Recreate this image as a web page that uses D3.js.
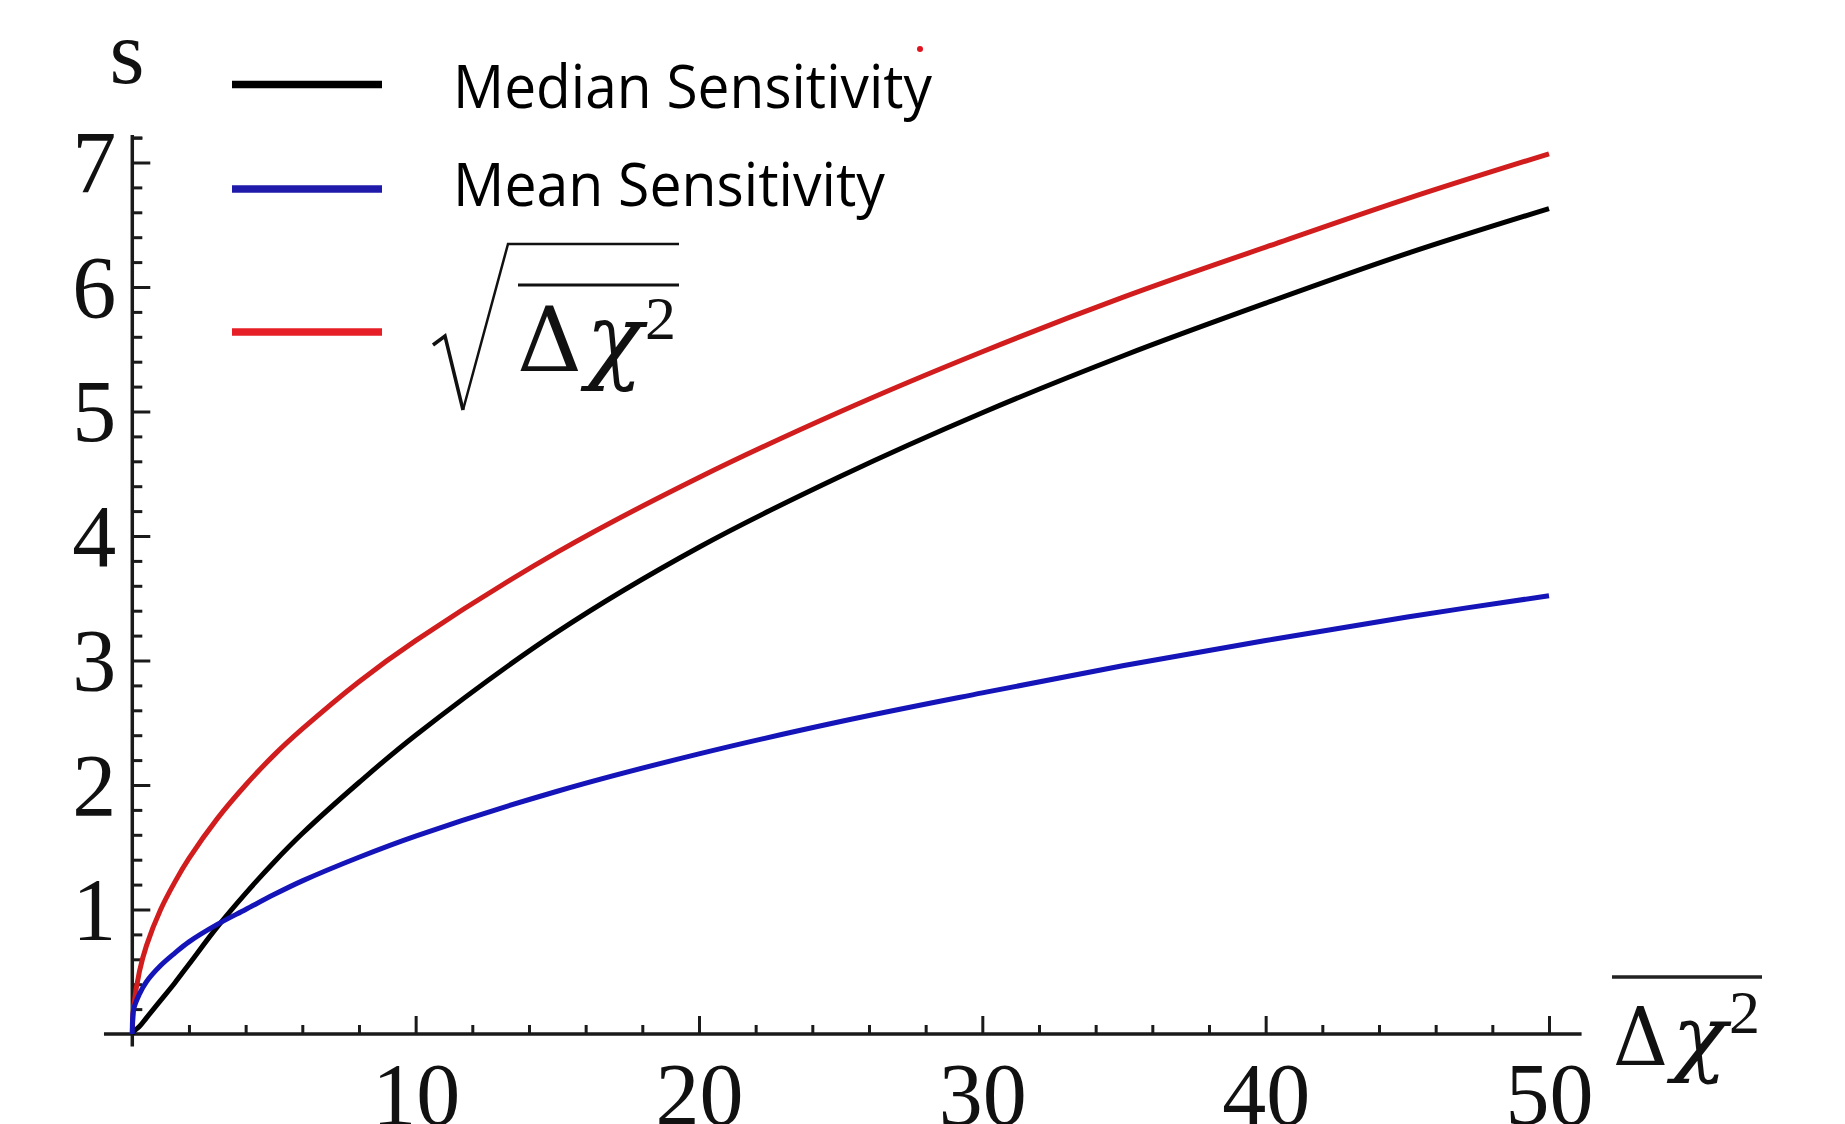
<!DOCTYPE html>
<html>
<head>
<meta charset="utf-8">
<script src="https://cdn.jsdelivr.net/npm/d3@7"></script>
<style>
  html, body { margin: 0; padding: 0; background: #fff; }
  svg { display: block; }
</style>
</head>
<body>
<svg id="chart" width="1845" height="1124"></svg>
<script>
// values
const xs = [0, 0.05, 0.25, 0.5, 1, 1.5, 2, 3, 4, 5, 6, 8, 10, 15, 20, 25, 30, 35, 40, 45, 50];
const sqrtChi = [0, 0.22, 0.5, 0.71, 1.0, 1.22, 1.41, 1.73, 2.0, 2.24, 2.45, 2.83, 3.16, 3.87, 4.47, 5.0, 5.48, 5.92, 6.32, 6.71, 7.07];
const median = [0, 0.02, 0.06, 0.13, 0.27, 0.41, 0.56, 0.86, 1.13, 1.38, 1.61, 2.02, 2.40, 3.23, 3.91, 4.48, 4.99, 5.45, 5.87, 6.27, 6.63];
const mean = [0, 0.2, 0.32, 0.42, 0.55, 0.65, 0.74, 0.88, 1.0, 1.12, 1.23, 1.42, 1.59, 1.95, 2.25, 2.51, 2.74, 2.96, 3.16, 3.35, 3.52];

const xMajor = [10, 20, 30, 40, 50];
const xMinor = [2, 4, 6, 8, 12, 14, 16, 18, 22, 24, 26, 28, 32, 34, 36, 38, 42, 44, 46, 48];
const yMajor = [1, 2, 3, 4, 5, 6, 7];
const yMinor = d3.range(1, 37).map(i => +(i * 0.2).toFixed(1)).filter(v => !yMajor.includes(v));

const legendNames = ["Median Sensitivity", "Mean Sensitivity"];

const svg = d3.select("#chart");
const serif = "'Liberation Serif', 'DejaVu Serif', serif";
const greek = "'DejaVu Serif', serif";

const x = d3.scaleLinear().domain([0, 50]).range([132.3, 1549]);
const y = d3.scaleLinear().domain([0, 7]).range([1034, 162.5]);

// axes lines
const axisColor = "#1a1a1a";
svg.append("line")
  .attr("x1", x(-1)).attr("x2", x(51.15))
  .attr("y1", y(0)).attr("y2", y(0))
  .attr("stroke", axisColor).attr("stroke-width", 3.5);
svg.append("line")
  .attr("x1", x(0)).attr("x2", x(0))
  .attr("y1", y(-0.1)).attr("y2", y(7.22))
  .attr("stroke", axisColor).attr("stroke-width", 3.5);

function tickGroup(axis, transform) {
  const g = svg.append("g").attr("transform", transform).call(axis);
  g.select(".domain").remove();
  g.selectAll(".tick line").attr("stroke", axisColor).attr("stroke-width", 3);
  g.selectAll(".tick text").remove();
  return g;
}

// x ticks (pointing up into the plot)
tickGroup(d3.axisTop(x).tickValues(xMajor).tickSize(18).tickSizeOuter(0), `translate(0,${y(0)})`);
tickGroup(d3.axisTop(x).tickValues(xMinor).tickSize(9).tickSizeOuter(0), `translate(0,${y(0)})`);

// y ticks (pointing right)
tickGroup(d3.axisRight(y).tickValues(yMajor).tickSize(18).tickSizeOuter(0), `translate(${x(0)},0)`);
tickGroup(d3.axisRight(y).tickValues(yMinor.concat([7.2])).tickSize(10).tickSizeOuter(0), `translate(${x(0)},0)`);

// tick labels
const xl = svg.append("g")
  .attr("transform", `translate(0,${y(0)})`)
  .call(d3.axisBottom(x).tickValues(xMajor).tickSize(0).tickFormat(d3.format("d")));
xl.select(".domain").remove();
xl.selectAll(".tick text")
  .attr("y", 90).attr("dy", null)
  .attr("font-family", serif).attr("font-size", 88).attr("fill", "#111");

const yl = svg.append("g")
  .attr("transform", `translate(${x(0)},0)`)
  .call(d3.axisLeft(y).tickValues(yMajor).tickSize(0).tickFormat(d3.format("d")));
yl.select(".domain").remove();
yl.selectAll(".tick text")
  .attr("x", -16).attr("dy", "0.33em")
  .attr("font-family", serif).attr("font-size", 88).attr("fill", "#111");

// axis labels
svg.append("text")
  .attr("x", 127).attr("y", 83)
  .attr("text-anchor", "middle")
  .attr("font-family", serif).attr("font-size", 90).attr("fill", "#111")
  .text("s");

// Δχ² pieces placed at given x positions
function deltaChi(g, pos, base, size, supSize, supRise) {
  g.append("text")
    .attr("x", pos[0]).attr("y", base)
    .attr("font-family", greek).attr("font-size", size)
    .attr("textLength", pos[1] - pos[0] - 4).attr("lengthAdjust", "spacingAndGlyphs")
    .attr("fill", "#111")
    .text("Δ");
  g.append("text")
    .attr("x", pos[1]).attr("y", base)
    .attr("font-family", greek).attr("font-style", "italic")
    .attr("font-size", size * 1.05)
    .attr("textLength", pos[2] - pos[1] - 2).attr("lengthAdjust", "spacingAndGlyphs")
    .attr("fill", "#111")
    .text("χ");
  g.append("text")
    .attr("x", pos[2]).attr("y", base - supRise)
    .attr("font-family", serif).attr("font-size", supSize).attr("fill", "#111")
    .text("2");
}

const xLab = svg.append("g");
xLab.append("line")
  .attr("x1", 1612).attr("x2", 1762).attr("y1", 977).attr("y2", 977)
  .attr("stroke", "#222").attr("stroke-width", 3.5);
deltaChi(xLab, [1613, 1672, 1729], 1065, 80, 62, 32);

// curves
const line = d3.line()
  .x(d => x(d[0]))
  .y(d => y(d[1]))
  .curve(d3.curveCatmullRom.alpha(0.5));

const series = [
  { values: sqrtChi, color: "#d11d1d" },
  { values: median, color: "#000000" },
  { values: mean, color: "#1414b8" }
];

svg.append("g").selectAll("path")
  .data(series)
  .enter()
  .append("path")
  .attr("d", s => line(xs.map((v, i) => [v, s.values[i]])))
  .attr("fill", "none")
  .attr("stroke", s => s.color)
  .attr("stroke-width", 5)
  .attr("stroke-linejoin", "round");

// legend
const legendColors = ["#000000", "#1f1aaa", "#e61f27"];
const legendY = [84.5, 189, 332];
svg.append("g").selectAll("line")
  .data(legendColors)
  .enter()
  .append("line")
  .attr("x1", 232).attr("x2", 382)
  .attr("y1", (d, i) => legendY[i]).attr("y2", (d, i) => legendY[i])
  .attr("stroke", d => d)
  .attr("stroke-width", 7.5);

const legendText = [
  { name: legendNames[0], y: 108, w: 479 },
  { name: legendNames[1], y: 206, w: 432 }
];
svg.append("g").selectAll("text")
  .data(legendText)
  .enter()
  .append("text")
  .attr("x", 453).attr("y", d => d.y)
  .attr("font-family", "'Open Sans', 'Noto Sans', sans-serif")
  .attr("font-size", 60)
  .attr("textLength", d => d.w)
  .attr("lengthAdjust", "spacingAndGlyphs")
  .attr("fill", "#000")
  .text(d => d.name);

// sqrt(Δχ²) label
const rad = svg.append("g");
rad.append("path")
  .attr("d", "M433,345 L445,336 L463,410")
  .attr("fill", "none").attr("stroke", "#111").attr("stroke-width", 3.5);
rad.append("path")
  .attr("d", "M463,410 L508,244 L679,244")
  .attr("fill", "none").attr("stroke", "#111").attr("stroke-width", 2.5)
  .attr("stroke-linejoin", "miter");
rad.append("line")
  .attr("x1", 518).attr("x2", 679).attr("y1", 285).attr("y2", 285)
  .attr("stroke", "#111").attr("stroke-width", 3);
deltaChi(rad, [517, 586, 645], 371, 90, 62, 32);

// small red speck near the legend
svg.append("circle")
  .attr("cx", 920).attr("cy", 49).attr("r", 3)
  .attr("fill", "#e0141e");
</script>
</body>
</html>
